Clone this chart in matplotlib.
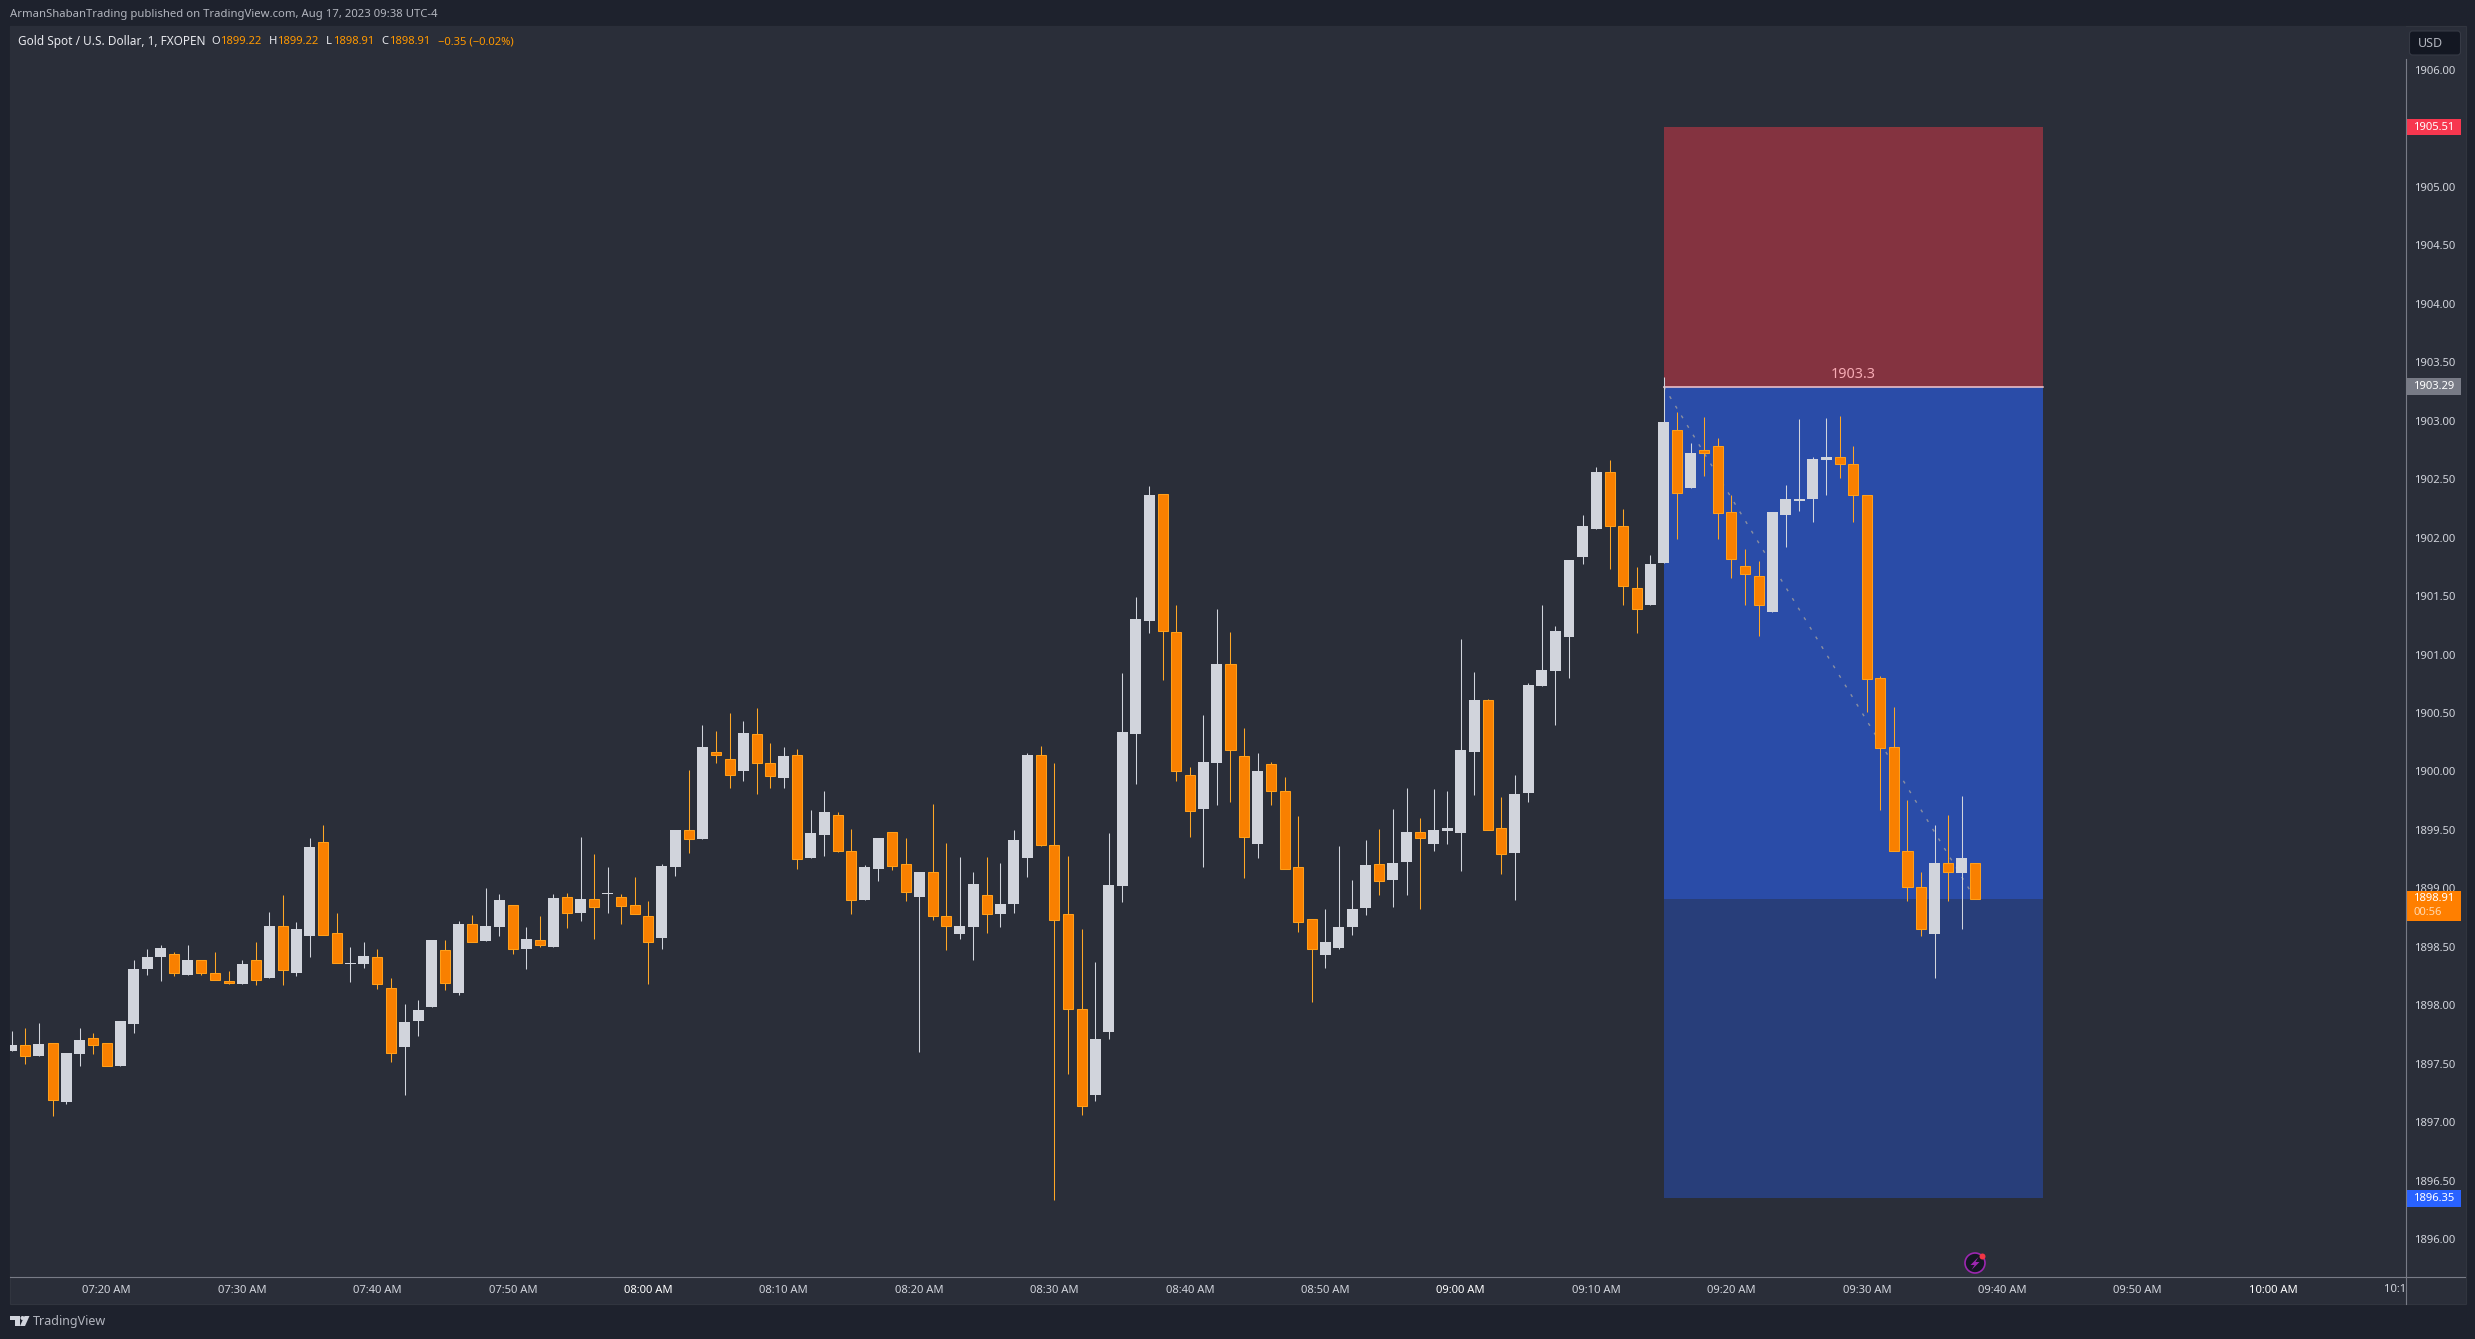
import numpy as np
import matplotlib
matplotlib.use('Agg')
import matplotlib.pyplot as plt
from matplotlib.lines import Line2D
from matplotlib.patches import Circle, Polygon, Rectangle, FancyBboxPatch
from matplotlib.transforms import Affine2D, Bbox, blended_transform_factory

# one candle per minute, first one is 07:13
opens = [
    1897.61, 1897.66, 1897.57, 1897.68, 1897.17, 1897.58, 1897.72, 1897.68, 1897.48, 1897.84,
    1898.31, 1898.41, 1898.44, 1898.26, 1898.39, 1898.28, 1898.21, 1898.18, 1898.39, 1898.23,
    1898.68, 1898.28, 1898.59, 1899.40, 1898.62, 1898.35, 1898.35, 1898.41, 1898.15, 1897.64,
    1897.87, 1897.99, 1898.47, 1898.11, 1898.70, 1898.55, 1898.67, 1898.86, 1898.48, 1898.56,
    1898.50, 1898.93, 1898.79, 1898.91, 1898.95, 1898.93, 1898.86, 1898.76, 1898.58, 1899.18,
    1899.50, 1899.42, 1900.17, 1900.11, 1900.00, 1900.32, 1900.07, 1899.94, 1900.14, 1899.26,
    1899.46, 1899.63, 1899.32, 1898.90, 1899.17, 1899.48, 1899.21, 1898.93, 1899.14, 1898.76,
    1898.61, 1898.67, 1898.94, 1898.78, 1898.87, 1899.26, 1900.14, 1899.37, 1898.78, 1897.97,
    1897.23, 1897.77, 1899.02, 1900.32, 1901.29, 1902.37, 1901.19, 1899.97, 1899.68, 1900.07,
    1900.92, 1900.13, 1899.38, 1900.06, 1899.83, 1899.18, 1898.74, 1898.43, 1898.49, 1898.67,
    1898.83, 1899.21, 1899.07, 1899.23, 1899.48, 1899.38, 1899.49, 1899.47, 1900.17, 1900.61,
    1899.52, 1899.30, 1899.82, 1900.73, 1900.86, 1901.15, 1901.83, 1902.07, 1902.56, 1902.10,
    1901.57, 1901.42, 1901.78, 1902.92, 1902.42, 1902.75, 1902.78, 1902.22, 1901.76, 1901.67,
    1901.36, 1902.19, 1902.31, 1902.33, 1902.66, 1902.69, 1902.63, 1902.36, 1900.80, 1900.21,
    1899.32, 1899.01, 1898.61, 1899.22, 1899.13, 1899.22,
]
highs = [
    1897.78, 1897.81, 1897.85, 1897.68, 1897.59, 1897.81, 1897.76, 1897.68, 1897.87, 1898.39,
    1898.48, 1898.52, 1898.46, 1898.52, 1898.39, 1898.46, 1898.29, 1898.39, 1898.54, 1898.80,
    1898.94, 1898.71, 1899.43, 1899.54, 1898.79, 1898.50, 1898.54, 1898.48, 1898.23, 1898.01,
    1898.05, 1898.56, 1898.56, 1898.72, 1898.77, 1899.00, 1898.95, 1898.86, 1898.67, 1898.76,
    1898.95, 1898.96, 1899.44, 1899.29, 1899.18, 1898.95, 1899.10, 1898.89, 1899.21, 1899.50,
    1900.01, 1900.40, 1900.35, 1900.50, 1900.43, 1900.54, 1900.24, 1900.21, 1900.19, 1899.67,
    1899.83, 1899.65, 1899.51, 1899.20, 1899.43, 1899.48, 1899.43, 1899.14, 1899.72, 1899.39,
    1899.27, 1899.14, 1899.27, 1899.22, 1899.50, 1900.16, 1900.22, 1900.07, 1899.28, 1898.65,
    1898.37, 1899.47, 1900.84, 1901.49, 1902.44, 1902.37, 1901.42, 1900.04, 1900.48, 1901.39,
    1901.19, 1900.37, 1900.16, 1900.08, 1899.95, 1899.62, 1898.74, 1898.82, 1899.36, 1899.07,
    1899.41, 1899.51, 1899.68, 1899.86, 1899.60, 1899.85, 1899.83, 1901.13, 1900.85, 1900.62,
    1899.78, 1899.97, 1900.76, 1901.42, 1901.24, 1901.81, 1902.19, 1902.60, 1902.66, 1902.24,
    1901.75, 1901.85, 1903.37, 1903.07, 1902.81, 1903.03, 1902.85, 1902.36, 1901.90, 1901.80,
    1902.22, 1902.45, 1903.01, 1902.69, 1903.02, 1903.04, 1902.78, 1902.36, 1900.82, 1900.55,
    1899.76, 1899.14, 1899.54, 1899.63, 1899.79, 1899.22,
]
lows = [
    1897.61, 1897.50, 1897.57, 1897.05, 1897.16, 1897.48, 1897.58, 1897.48, 1897.48, 1897.76,
    1898.26, 1898.21, 1898.25, 1898.26, 1898.26, 1898.22, 1898.18, 1898.18, 1898.17, 1898.23,
    1898.17, 1898.25, 1898.41, 1898.60, 1898.36, 1898.20, 1898.32, 1898.14, 1897.52, 1897.23,
    1897.74, 1897.99, 1898.13, 1898.09, 1898.54, 1898.55, 1898.59, 1898.44, 1898.31, 1898.50,
    1898.50, 1898.66, 1898.72, 1898.57, 1898.79, 1898.70, 1898.78, 1898.18, 1898.48, 1899.11,
    1899.30, 1899.42, 1900.07, 1899.86, 1899.92, 1899.81, 1899.86, 1899.86, 1899.17, 1899.26,
    1899.28, 1899.31, 1898.78, 1898.90, 1899.06, 1899.16, 1898.89, 1897.60, 1898.73, 1898.47,
    1898.57, 1898.39, 1898.62, 1898.67, 1898.79, 1899.10, 1899.36, 1896.34, 1897.41, 1897.06,
    1897.18, 1897.71, 1898.88, 1899.89, 1901.18, 1900.78, 1899.92, 1899.44, 1899.18, 1899.71,
    1899.74, 1899.09, 1899.26, 1899.71, 1899.17, 1898.63, 1898.03, 1898.32, 1898.48, 1898.60,
    1898.77, 1898.94, 1898.84, 1898.94, 1898.82, 1899.32, 1899.38, 1899.15, 1899.80, 1899.50,
    1899.12, 1898.90, 1899.74, 1900.73, 1900.40, 1900.80, 1901.77, 1902.07, 1901.73, 1901.42,
    1901.18, 1901.42, 1901.78, 1901.99, 1902.42, 1902.53, 1901.99, 1901.65, 1901.42, 1901.16,
    1901.36, 1901.92, 1902.23, 1902.13, 1902.36, 1902.51, 1902.13, 1900.51, 1899.67, 1899.32,
    1898.89, 1898.59, 1898.23, 1898.89, 1898.65, 1898.91,
]
closes = [
    1897.66, 1897.57, 1897.67, 1897.19, 1897.59, 1897.70, 1897.66, 1897.48, 1897.87, 1898.31,
    1898.41, 1898.49, 1898.28, 1898.39, 1898.28, 1898.22, 1898.19, 1898.35, 1898.22, 1898.68,
    1898.30, 1898.65, 1899.35, 1898.60, 1898.36, 1898.36, 1898.42, 1898.18, 1897.59, 1897.86,
    1897.96, 1898.56, 1898.19, 1898.70, 1898.54, 1898.68, 1898.90, 1898.48, 1898.57, 1898.52,
    1898.92, 1898.79, 1898.91, 1898.84, 1898.96, 1898.85, 1898.78, 1898.54, 1899.19, 1899.50,
    1899.42, 1900.21, 1900.14, 1899.97, 1900.33, 1900.07, 1899.96, 1900.13, 1899.25, 1899.47,
    1899.65, 1899.32, 1898.90, 1899.18, 1899.43, 1899.19, 1898.97, 1899.14, 1898.76, 1898.68,
    1898.68, 1899.04, 1898.78, 1898.87, 1899.41, 1900.14, 1899.37, 1898.73, 1897.97, 1897.14,
    1897.71, 1899.03, 1900.34, 1901.30, 1902.36, 1901.20, 1900.00, 1899.66, 1900.08, 1900.92,
    1900.18, 1899.44, 1900.00, 1899.83, 1899.17, 1898.71, 1898.48, 1898.54, 1898.67, 1898.82,
    1899.20, 1899.06, 1899.22, 1899.48, 1899.43, 1899.50, 1899.52, 1900.18, 1900.61, 1899.50,
    1899.29, 1899.81, 1900.74, 1900.87, 1901.20, 1901.81, 1902.10, 1902.56, 1902.10, 1901.59,
    1901.39, 1901.77, 1902.99, 1902.38, 1902.72, 1902.72, 1902.21, 1901.82, 1901.69, 1901.42,
    1902.22, 1902.33, 1902.33, 1902.67, 1902.69, 1902.63, 1902.36, 1900.79, 1900.20, 1899.32,
    1899.01, 1898.65, 1899.22, 1899.14, 1899.26, 1898.91,
]

# short position tool
stop_price = 1905.51
entry_price = 1903.29
target_price = 1896.35
last_price = 1898.91
box_start = 122
box_end = 150

y_ticks = [1896.0, 1896.5, 1897.0, 1897.5, 1898.0, 1898.5, 1899.0, 1899.5, 1900.0, 1900.5, 1901.0,
           1901.5, 1902.0, 1902.5, 1903.0, 1903.5, 1904.0, 1904.5, 1905.0, 1905.5, 1906.0]
x_ticks = [7, 17, 27, 37, 47, 57, 67, 77, 87, 97, 107, 117, 127, 137, 147, 157, 167]
x_labels = ['07:20 AM', '07:30 AM', '07:40 AM', '07:50 AM', '08:00 AM', '08:10 AM', '08:20 AM', '08:30 AM',
            '08:40 AM', '08:50 AM', '09:00 AM', '09:10 AM', '09:20 AM', '09:30 AM', '09:40 AM', '09:50 AM',
            '10:00 AM']
bold_labels = ['08:00 AM', '09:00 AM', '10:00 AM']

OUTER = '#1e222d'
PANEL = '#2a2e39'
TEXT = '#d1d4dc'
UP = '#d1d4dc'
DOWN = '#f98000'
DOWN_EDGE = '#ff9f1a'
AXIS_LINE = '#787b86'

plt.rcParams['font.family'] = ['Noto Sans', 'DejaVu Sans']

W, H = 2475, 1339
fig = plt.figure(figsize=(W / 100, H / 100), dpi=100, facecolor=OUTER)
# pixels from the top left, for everything around the plot
px = Affine2D().scale(1, -1).translate(0, H)

fig.add_artist(Rectangle((10, 26), 2456, 1278, transform=px, fc=PANEL, ec='#31353f', lw=0.8, zorder=-1))

ax = fig.add_axes([10 / W, 1 - 1276 / H, 2395.5 / W, 1250 / H], facecolor=PANEL)
ax.set_xlim(-0.14, 176.78)
ax.set_ylim(1895.686, 1906.374)
for s in ax.spines.values():
    s.set_visible(False)

# position boxes
ax.add_patch(Rectangle((box_start, entry_price), box_end - box_start, stop_price - entry_price,
                       fc='#843340', ec='none', zorder=1))
ax.add_patch(Rectangle((box_start, last_price), box_end - box_start, entry_price - last_price,
                       fc='#2a4ca8', ec='none', zorder=1))
ax.add_patch(Rectangle((box_start, target_price), box_end - box_start, last_price - target_price,
                       fc='#283e7a', ec='none', zorder=1))
ax.plot([box_start, len(opens) - 1], [entry_price, last_price], color='#8a8fa0', lw=1.0,
        linestyle=(0, (2.2, 5.9)), zorder=1.5)
ax.plot([box_start, box_end], [entry_price, entry_price], color='#f3c9cf', lw=1.1, zorder=1.6)
ax.text((box_start + box_end) / 2, entry_price + 0.105, '1903.3', color='#f7abb4', fontsize=10.3,
        fontweight='bold', ha='center', va='center', zorder=4)

# candles
t = np.arange(len(opens))
o = np.array(opens)
h = np.array(highs)
l = np.array(lows)
c = np.array(closes)
rising = c >= o
ax.vlines(t[rising], l[rising], h[rising], color=UP, lw=0.75, zorder=3)
ax.vlines(t[~rising], l[~rising], h[~rising], color='#ffa726', lw=0.75, zorder=3)
ax.bar(t[rising], c[rising] - o[rising], bottom=o[rising], width=0.81, color=UP, zorder=3.2)
ax.bar(t[~rising], o[~rising] - c[~rising], bottom=c[~rising], width=0.74, color=DOWN,
       edgecolor=DOWN_EDGE, linewidth=0.75, zorder=3.2)

# axes
ax.yaxis.tick_right()
ax.set_yticks(y_ticks)
ax.set_yticklabels(['%.2f' % v for v in y_ticks], fontsize=8.1, color=TEXT)
ax.set_xticks(x_ticks)
ax.set_xticklabels(x_labels, fontsize=8.1, color=TEXT)
ax.tick_params(axis='y', length=0, pad=6)
ax.tick_params(axis='x', length=0, pad=6.5)
for lab in ax.get_xticklabels():
    if lab.get_text() in bold_labels:
        lab.set_fontweight('bold')
        lab.set_color('#ffffff')
fig.add_artist(Line2D([2405.5, 2405.5], [59, 1304], transform=px, color=AXIS_LINE, lw=0.8))
fig.add_artist(Line2D([10, 2465], [1276.5, 1276.5], transform=px, color=AXIS_LINE, lw=0.8))
fig.text(2408.5, 1289.5, '10:10 AM', transform=px, fontsize=8.1, color=TEXT, ha='center', va='center',
         clip_on=True, clip_box=Bbox([[0, 0], [2405, H]]))

# price tags on the scale
tr = blended_transform_factory(ax.transAxes, ax.transData)
tag_w = 55.5 / 2395.5
for price, colour in [(stop_price, '#f7374f'), (entry_price, '#787b86'), (target_price, '#2962ff')]:
    ax.add_patch(Rectangle((1.0, price - 0.072), tag_w, 0.144, transform=tr, fc=colour, ec='none',
                           clip_on=False, zorder=6))
    ax.text(1 + 8 / 2395.5, price, '%.2f' % price, transform=tr, fontsize=8.1, color='white',
            va='center', zorder=7, clip_on=False)
ax.add_patch(Rectangle((1.0, last_price - 0.19), tag_w, 0.262, transform=tr, fc='#ff7f00', ec='none',
                       clip_on=False, zorder=6))
ax.text(1 + 8 / 2395.5, last_price, '%.2f' % last_price, transform=tr, fontsize=8.1, color='white',
        va='center', zorder=7, clip_on=False)
ax.text(1 + 8 / 2395.5, last_price - 0.117, '00:56', transform=tr, fontsize=8.1, color='#ffd9b0',
        va='center', zorder=7, clip_on=False)

# USD button
fig.add_artist(FancyBboxPatch((2411, 32.5), 48, 21, boxstyle='round,pad=1.5,rounding_size=3', transform=px,
                              fc='#131722', ec='#363a45', lw=0.8))
fig.text(2418, 43.5, 'USD', transform=px, fontsize=9, color='#b2b5be', va='center')

# header
fig.text(10, 15, 'ArmanShabanTrading published on TradingView.com, Aug 17, 2023 09:38 UTC-4', transform=px,
         fontsize=8.15, color='#b2b5be', va='center')
fig.text(18, 41.5, 'Gold Spot / U.S. Dollar, 1, FXOPEN', transform=px, fontsize=8.5, color='#e8e9ee', va='center')
for lx, s, colour in [(211, 'O', '#e8e9ee'), (220.5, '1899.22', '#ff9800'), (269, 'H', '#e8e9ee'), (277.5, '1899.22', '#ff9800'),
                      (326, 'L', '#e8e9ee'), (333, '1898.91', '#ff9800'), (381, 'C', '#e8e9ee'), (389.5, '1898.91', '#ff9800'),
                      (438, '\u22120.35 (\u22120.02%)', '#ff9800')]:
    fig.text(lx, 41.5, s, transform=px, fontsize=8.1, color=colour, va='center')

# TradingView logo
fig.add_artist(Polygon([(10, 1316), (20, 1316), (20, 1326), (15, 1326), (15, 1320), (10, 1320)], transform=px, fc=TEXT, ec='none'))
fig.add_artist(Circle((22.5, 1318), 2, transform=px, fc=TEXT, ec='none'))
fig.add_artist(Polygon([(24.5, 1316), (29.5, 1316), (25, 1326), (20, 1326)], transform=px, fc=TEXT, ec='none'))
fig.text(33, 1321.5, 'TradingView', transform=px, fontsize=9, color='#b2b5be', va='center')

# lightning badge
fig.add_artist(Circle((1975, 1263), 10, transform=px, fc='#131722', ec='#9c27b0', lw=1.2))
fig.add_artist(Polygon([(1978.5, 1257), (1970.5, 1265), (1974.5, 1265), (1971.5, 1270), (1979.5, 1262), (1975.5, 1262)],
                       transform=px, fc='#9c27b0', ec='none'))
fig.add_artist(Circle((1982.5, 1256.5), 3, transform=px, fc='#f23645', ec='none'))

fig.savefig('out.png', dpi=100, facecolor=OUTER)
